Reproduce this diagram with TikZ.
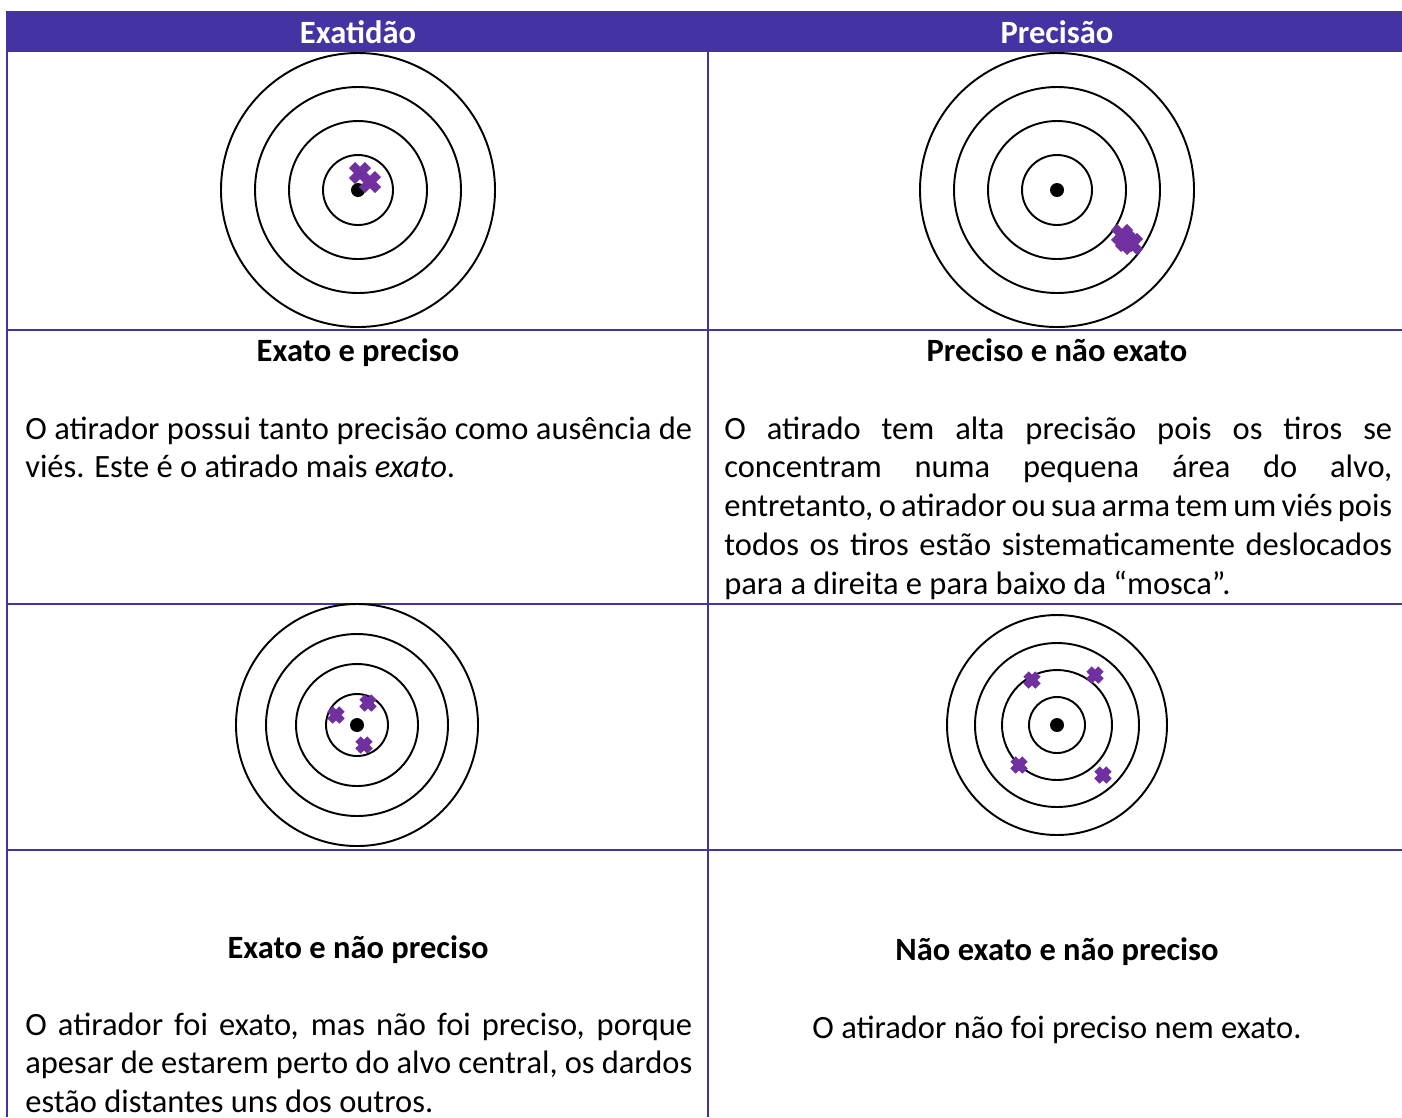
\documentclass[tikz,border=0pt]{standalone}
\usepackage{fontspec}
\setmainfont{Carlito}
\usepackage{tikz}
\usetikzlibrary{positioning,calc}
\definecolor{roxo}{HTML}{4333A3}
\definecolor{tiroc}{HTML}{7030A0}
\hbadness=10000

\tikzset{
  grade/.style={roxo,line width=0.85pt},
  anel/.style={black,line width=1.1pt},
  tiro/.style={tiroc,line width=4.3pt},
  titulo/.style={font=\fontsize{18.5}{22.1}\selectfont\bfseries,text=white,inner sep=0pt,anchor=base},
  rotulo/.style={font=\fontsize{18.5}{22.1}\selectfont\bfseries,inner sep=0pt,anchor=base},
  texto/.style={font=\fontsize{18.5}{22.1}\selectfont,inner sep=0pt,text width=13.34cm,align=justify,anchor=base west}
}

\begin{document}
\begin{tikzpicture}[x=0.02cm,y=-0.02cm]
    \useasboundingbox (0,0) rectangle (1402,1117);
    % cabeçalho
    \fill[roxo] (7,11) rectangle (1402,52);
    \node[titulo] (cabA) at (358,43) {Exatidão};
    \node[titulo] (cabB) at (1057,43) {Precisão};
    % grade da tabela
    \draw[grade] (7,11) -- (7,1117);
    \draw[grade] (708,52) -- (708,1117);
    \foreach \y in {330,604,850} \draw[grade] (7,\y) -- (1402,\y);
    % alvos de cima
    \coordinate (alvoA) at (358,190);
    \coordinate (alvoB) at (1057,190);
    \foreach \r in {35,69,103,137} {
      \draw[anel] (alvoA) circle[radius=\r];
      \draw[anel] (alvoB) circle[radius=\r];
    }
    \fill (alvoA) circle[radius=7];
    \fill (alvoB) circle[radius=7];
    \foreach \cx/\cy in {360/173,370/182,1122/235,1132/244,1126/241}
      \draw[tiro,line width=5pt,shift={(\cx,\cy)}] (-8,-8) -- (8,8) (-8,8) -- (8,-8);
    % alvos de baixo
    \coordinate (alvoC) at (357,725);
    \coordinate (alvoD) at (1057,725);
    \foreach \r in {31,61,91,121} \draw[anel] (alvoC) circle[radius=\r];
    \foreach \r in {28,55,82,110} \draw[anel] (alvoD) circle[radius=\r];
    \fill (alvoC) circle[radius=7];
    \fill (alvoD) circle[radius=7];
    \foreach \cx/\cy in {336/715,368/703,364/745,1032/680,1095/675,1019/765,1103/775}
      \draw[tiro,shift={(\cx,\cy)}] (-6,-6) -- (6,6) (-6,6) -- (6,-6);
    % textos
    \node[rotulo] (rotA) at (358,361) {Exato e preciso};
    \node[rotulo] (rotB) at (1057,361) {Preciso e não exato};
    \node[rotulo] (rotC) at (358,958) {Exato e não preciso};
    \node[rotulo] (rotD) at (1057,960) {Não exato e não preciso};
    \node[texto] (txtA) at (25,439) {O atirador possui tanto precisão como ausência de\linebreak viés. Este é o atirado mais \emph{exato}.};
    \node[texto,text width=13.36cm] (txtB) at (724,439) {O atirado tem alta precisão pois os tiros se\linebreak concentram numa pequena área do alvo,\linebreak entretanto, o atirador ou sua arma tem um viés pois\linebreak todos os tiros estão sistematicamente deslocados\linebreak para a direita e para baixo da “mosca”.};
    \node[texto] (txtC) at (25,1035) {O atirador foi exato, mas não foi preciso, porque\linebreak apesar de estarem perto do alvo central, os dardos\linebreak estão distantes uns dos outros.};
    \node[rotulo,font=\fontsize{18.5}{22.1}\selectfont] (txtD) at (1057,1038) {O atirador não foi preciso nem exato.};
  \end{tikzpicture}
\end{document}
